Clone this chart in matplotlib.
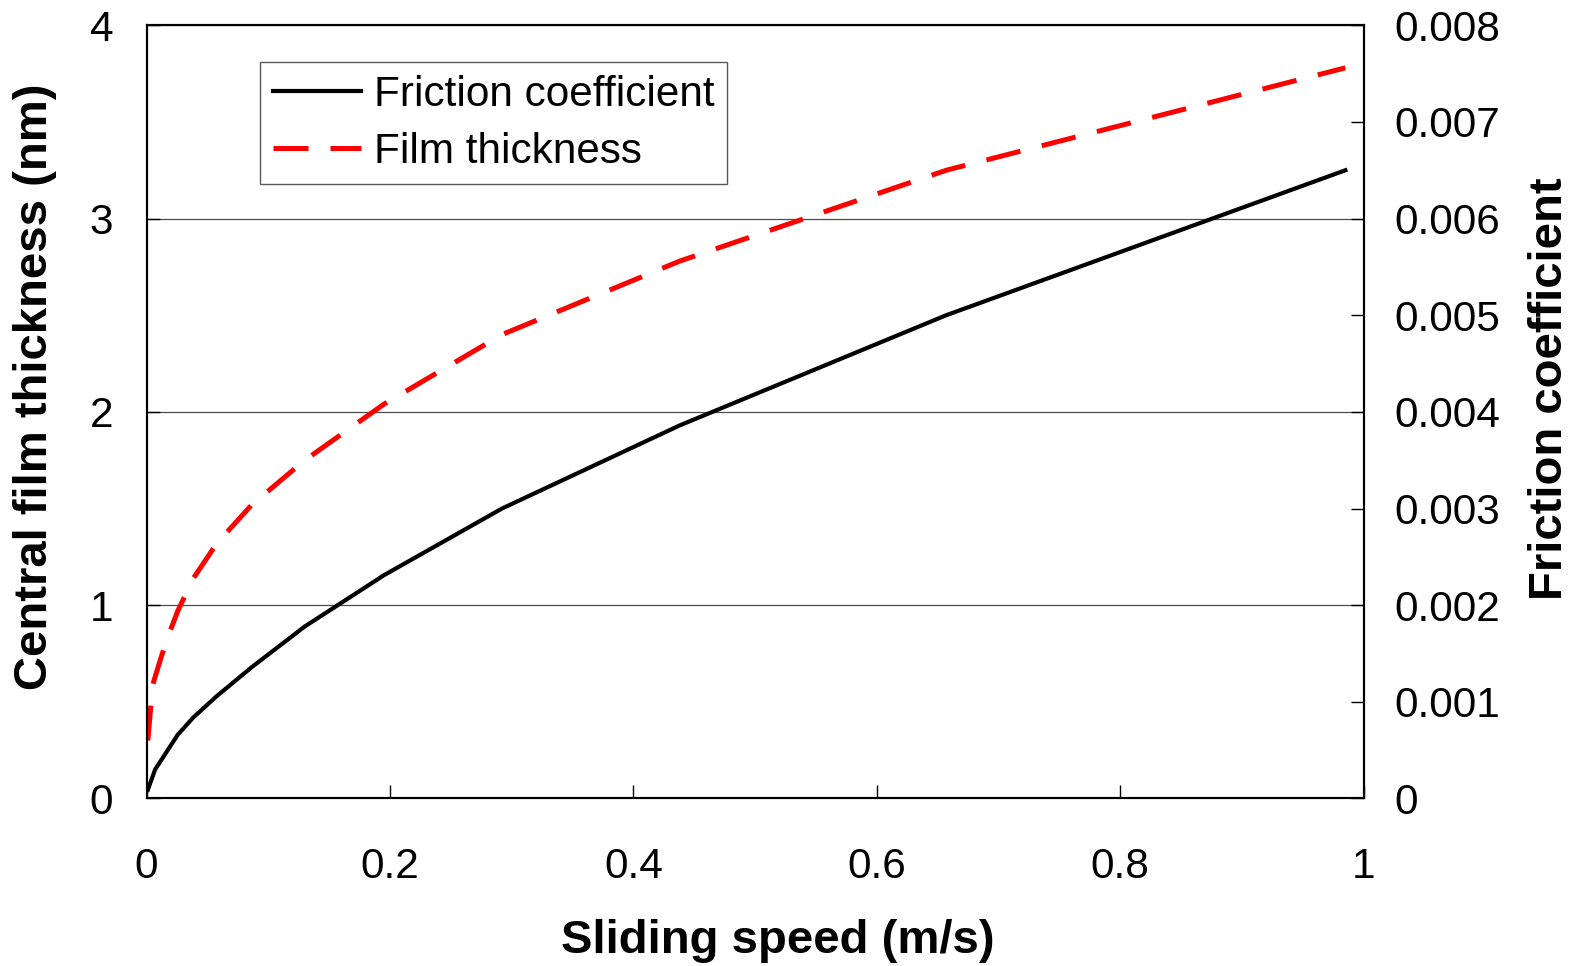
"""
Film thickness and friction coefficient vs sliding speed (twin y axes)
"""

import matplotlib
matplotlib.use('Agg')  # no GUI
import matplotlib.pyplot as plt

# === DATA ===

# sliding speed (m/s)
speed_friction = [0.001, 0.007, 0.0256, 0.0385, 0.0577, 0.0865, 0.130, 0.195, 0.292, 0.438, 0.657, 0.985]
friction = [0.00009, 0.00030, 0.00066, 0.00084, 0.00106, 0.00136, 0.00178, 0.00231, 0.00300, 0.00386, 0.00500, 0.00650]

speed_film = [0.001, 0.0034, 0.0051, 0.0114, 0.0171, 0.0256, 0.0385, 0.0577, 0.0865, 0.130, 0.195, 0.292, 0.438, 0.657, 0.985]
film = [0.30, 0.475, 0.59, 0.72, 0.83, 0.97, 1.14, 1.32, 1.52, 1.75, 2.04, 2.40, 2.78, 3.25, 3.78]

x_ticks = [0, 0.2, 0.4, 0.6, 0.8, 1.0]
x_tick_labels = ['0', '0.2', '0.4', '0.6', '0.8', '1']
film_ticks = [0, 1, 2, 3, 4]
film_tick_labels = ['0', '1', '2', '3', '4']
friction_ticks = [0, 0.001, 0.002, 0.003, 0.004, 0.005, 0.006, 0.007, 0.008]
friction_tick_labels = ['0', '0.001', '0.002', '0.003', '0.004', '0.005', '0.006', '0.007', '0.008']

plt.rcParams['font.family'] = ['Liberation Sans', 'DejaVu Sans']

fig = plt.figure(figsize=(15.85, 9.66), dpi=100)
ax = fig.add_axes([0.0925, 0.1734, 0.7678, 0.8004])
ax2 = ax.twinx()

# film thickness on the left axis, friction on the right axis
line_film, = ax.plot(speed_film, film, color='#ff0000', lw=3.6,
                     dashes=(7, 4.4), label='Film thickness')
line_fric, = ax2.plot(speed_friction, friction, color='black', lw=3.0,
                      label='Friction coefficient')

ax.set_xlim(0, 1)
ax.set_ylim(0, 4)
ax2.set_ylim(0, 0.008)

ax.set_xticks(x_ticks)
ax.set_xticklabels(x_tick_labels)
ax.set_yticks(film_ticks)
ax.set_yticklabels(film_tick_labels)
ax2.set_yticks(friction_ticks)
ax2.set_yticklabels(friction_tick_labels)

ax.grid(axis='y', color='0.3', lw=0.9)
ax.set_axisbelow(True)

for a in (ax, ax2):
    for sp in a.spines.values():
        sp.set_linewidth(1.5)
        sp.set_color('black')

ax.tick_params(axis='x', direction='in', length=9.5, width=1, labelsize=30.5, pad=35)
ax.tick_params(axis='y', direction='in', length=9.5, width=1, labelsize=30.5, pad=24)
ax2.tick_params(axis='y', direction='in', length=9.5, width=1, labelsize=30.5, pad=22)

ax.set_xlabel('Sliding speed (m/s)', fontsize=34, fontweight='bold', va='center')
ax.xaxis.set_label_coords(0.519, -0.184)
ax.set_ylabel('Central film thickness (nm)', fontsize=34, fontweight='bold', va='center')
ax.yaxis.set_label_coords(-0.0917, 0.533)
ax2.set_ylabel('Friction coefficient', fontsize=34, fontweight='bold', va='center', rotation=90)
ax2.yaxis.set_label_coords(1.153, 0.53)

leg = ax2.legend([line_fric, line_film], ['Friction coefficient', 'Film thickness'],
                 loc='upper left', bbox_to_anchor=(260 / 1585, 1 - 62 / 966),
                 bbox_transform=fig.transFigure, fontsize=30.4, frameon=True,
                 fancybox=False, framealpha=1, edgecolor='0.35',
                 handlelength=2.1, handletextpad=0.3, labelspacing=0.4,
                 borderpad=0.3, borderaxespad=0)
leg.get_frame().set_linewidth(1.0)

plt.savefig('out.png', dpi=100)
plt.close()
